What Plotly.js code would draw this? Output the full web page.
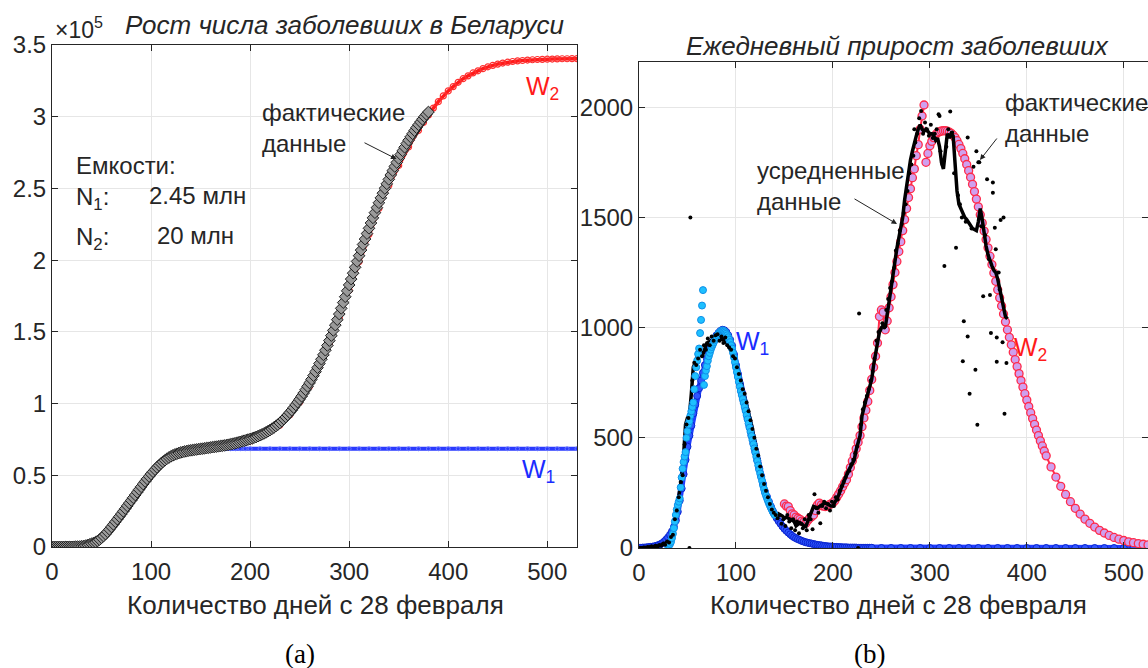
<!DOCTYPE html>
<html><head><meta charset="utf-8">
<script src="https://cdn.plot.ly/plotly-3.0.1.min.js"></script>
<style>html,body{margin:0;padding:0;background:#fff;}#chart{width:1148px;height:668px;}</style>
</head><body><div id="chart"></div>
<script>
// ---------- DATA ----------
// Days since 28 Feb, even days 0..380
const dayEven = [0,2,4,6,8,10,12,14,16,18,20,22,24,26,28,30,32,34,36,38,40,42,44,46,48,50,52,54,56,58,60,62,64,66,68,70,72,74,76,78,80,82,84,86,88,90,92,94,96,98,100,102,104,106,108,110,112,114,116,118,120,122,124,126,128,130,132,134,136,138,140,142,144,146,148,150,152,154,156,158,160,162,164,166,168,170,172,174,176,178,180,182,184,186,188,190,192,194,196,198,200,202,204,206,208,210,212,214,216,218,220,222,224,226,228,230,232,234,236,238,240,242,244,246,248,250,252,254,256,258,260,262,264,266,268,270,272,274,276,278,280,282,284,286,288,290,292,294,296,298,300,302,304,306,308,310,312,314,316,318,320,322,324,326,328,330,332,334,336,338,340,342,344,346,348,350,352,354,356,358,360,362,364,366,368,370,372,374,376,378,380];
// Odd days 1..379
const dayOdd = [1,3,5,7,9,11,13,15,17,19,21,23,25,27,29,31,33,35,37,39,41,43,45,47,49,51,53,55,57,59,61,63,65,67,69,71,73,75,77,79,81,83,85,87,89,91,93,95,97,99,101,103,105,107,109,111,113,115,117,119,121,123,125,127,129,131,133,135,137,139,141,143,145,147,149,151,153,155,157,159,161,163,165,167,169,171,173,175,177,179,181,183,185,187,189,191,193,195,197,199,201,203,205,207,209,211,213,215,217,219,221,223,225,227,229,231,233,235,237,239,241,243,245,247,249,251,253,255,257,259,261,263,265,267,269,271,273,275,277,279,281,283,285,287,289,291,293,295,297,299,301,303,305,307,309,311,313,315,317,319,321,323,325,327,329,331,333,335,337,339,341,343,345,347,349,351,353,355,357,359,361,363,365,367,369,371,373,375,377,379];

// (a) cumulative cases, thousands (actual data, even days)
const cumActual = [0,0,0,0,0,0,0,0.05,0.05,0.07,
0.1,0.15,0.2,0.25,0.35,0.5,0.7,1.0,1.4,1.8,
2.3,2.8,3.4,4.2,5.2,6.4,7.6,9.0,10.6,12.3,
14.0,15.8,17.6,19.4,21.2,23.0,24.9,26.8,28.7,30.6,
32.5,34.4,36.3,38.2,40.1,42.0,43.9,45.7,47.5,49.2,
50.9,52.5,54.0,55.5,56.9,58.2,59.4,60.5,61.5,62.4,
63.2,63.9,64.5,65.0,65.5,65.9,66.3,66.6,66.9,67.2,
67.4,67.6,67.8,68.0,68.2,68.4,68.6,68.8,69.0,69.2,
69.4,69.6,69.8,70.0,70.2,70.4,70.6,70.8,71.0,71.3,
71.6,71.9,72.2,72.5,72.9,73.3,73.7,74.1,74.5,74.9,
75.3,75.7,76.2,76.7,77.3,77.9,78.5,79.2,79.9,80.7,
81.5,82.4,83.3,84.3,85.3,86.5,87.8,89.2,90.6,92.1,
93.7,95.4,97.2,99.1,101.0,103.0,105.1,107.3,109.6,112.0,
114.4,116.9,119.5,122.2,125.0,127.9,130.9,134.0,137.2,140.5,
143.9,147.4,151.0,154.7,158.5,162.4,166.4,170.4,174.5,178.6,
182.7,186.8,190.9,195.0,199.1,203.1,207.0,210.9,214.7,218.5,
222.2,225.9,229.5,233.1,236.6,240.0,243.4,246.7,250.0,253.2,
256.3,259.4,262.4,265.3,268.1,270.9,273.6,276.2,278.7,281.2,
283.6,285.9,288.1,290.3,292.4,294.4,296.3,298.2,300.0,301.7,
303.3];

// (a) model W1 cumulative, thousands
const cumW1Days = [0,5,10,15,20,25,30,35,40,45,50,55,60,65,70,75,80,85,90,95,100,105,110,115,120,125,130,135,140,145,150,155,160,165,170,175,180,185,190,195,200,210,220,230,240,250,260,270,280,290,300,310,320,330,340,350,360,370,380,390,400,410,420,430,440,450,460,470,480,490,500,510,520,530];
const cumW1 = [0,0,0,0,0.1,0.25,0.5,1.2,2.2,3.8,
6.2,9.5,13.5,18,22.5,27.3,32,36.8,41.5,46,
50,53.5,57,60,62.5,64.3,65.6,66.6,67.3,67.8,
68.1,68.3,68.4,68.5,68.5,68.5,68.5,68.5,68.5,68.5,
68.5,68.5,68.5,68.5,68.5,68.5,68.5,68.5,68.5,68.5,68.5,68.5,68.5,68.5,68.5,68.5,68.5,68.5,68.5,68.5,68.5,68.5,68.5,68.5,68.5,68.5,68.5,68.5,68.5,68.5,68.5,68.5,68.5,68.5];

// (a) model W2 cumulative, thousands
const cumW2Days = [200,210,220,230,240,250,260,270,280,290,300,310,320,330,340,350,360,370,375,380,385,390,395,400,405,410,415,420,425,430,435,440,445,450,455,460,465,470,475,480,485,490,495,500,505,510,515,520,525,530];
const cumW2 = [74,77,80.5,85,92,101,112,126,142,160,179,199,218,236,252,266,279,290.5,
296,301,306,310.5,314.5,318,321,324,326.5,328.5,330.5,332,333.5,334.8,335.8,336.7,337.4,338,338.5,338.9,339.2,339.5,339.7,339.9,340.0,340.1,340.2,340.3,340.4,340.4,340.5,340.5];

// (b) daily: averaged data (even days)
const avgDaily = [0,0,0,1,2,3,4,5,6,8,
10,12,15,18,22,28,38,55,90,150,
210,260,320,420,560,590,600,700,820,840,
870,880,890,880,910,930,935,940,945,950,
955,960,950,945,950,935,920,905,890,870,
845,810,775,745,710,680,640,600,560,515,
470,430,390,350,310,270,240,210,185,165,
150,140,155,150,145,135,140,135,130,128,
120,100,110,115,110,100,97,120,142,170,
188,185,180,188,195,200,205,200,195,190,
190,205,218,240,265,290,310,330,350,365,
385,400,445,480,510,600,640,670,700,740,
765,830,880,950,980,1000,1010,1000,1050,1120,
1180,1230,1300,1360,1410,1450,1500,1580,1650,1710,
1760,1800,1840,1870,1900,1920,1900,1890,1900,1890,
1880,1880,1870,1850,1860,1820,1750,1720,1800,1880,
1860,1880,1870,1750,1620,1560,1540,1520,1500,1490,
1475,1460,1450,1445,1440,1480,1540,1490,1420,1370,
1330,1300,1280,1260,1250,1220,1175,1120,1080,1050,
1040];

// (b) daily: actual data points (odd days)
const dailyActual = [0,0,2,0,5,3,8,4,10,6,
14,10,20,15,30,25,50,60,130,170,
230,300,330,470,560,590,1500,760,840,830,
860,900,870,920,900,950,920,960,940,965,
970,940,960,930,955,920,910,900,870,860,
820,790,760,720,700,660,620,580,540,500,
450,420,370,330,290,260,230,200,175,160,
150,135,150,110,130,100,150,120,90,130,
80,120,67,110,90,130,80,150,130,85,
244,180,160,112,190,210,180,200,170,210,
190,230,220,260,280,300,320,340,350,380,
400,430,460,1064,560,630,660,690,720,760,
800,860,940,980,990,1020,1000,1080,1130,1180,
1210,1270,1350,1380,1440,1470,1520,1560,1620,1700,
1740,1780,1840,1880,1950,1983,1880,1930,1900,1870,
1920,1860,1880,1900,1968,1800,1740,1279,1820,1900,
1980,1885,1700,1362,1600,1560,1500,1029,1480,1862,
700,1450,1730,809,559,1750,1460,1142,1420,1673,
1310,976,1612,1453,955,1250,1488,933,609,839];
// extra actual points on even days
const extraDays = [52,226,284,310,334,339,348,350,362,365,368,369,372,376];
const extraVals = [0,0,1900,1960,847,960,1800,1750,1148,1658,1355,845,1173,1500];

// (b) data used for W1 fit
const cyanDays = [30,31,32,33,34,35,36,37,38,39,40,41,42,43,44,45,46,47,48,49,50,51,52,53,54,55,56,57,58,59,60,61,62,63,64,65,66,67,68,69,70,71,72,73,74,75,76,77,78,79,80,81,82,83,84,85,86,87,88,89,90,91,92,93,94,95,96,97,98,99,100,101,102,103,104,105,106,107,108,109,110,111,112,113,114,115,116,117,118,119,120,121,122,123,124,125,126,127,128,129,130,131,132,133,134,135,136,137,138,139,140];
const cyanVals = [8,12,18,28,45,65,90,120,150,175,
195,210,225,275,320,360,390,415,435,500,
530,560,575,600,620,640,660,720,780,820,
850,880,905,975,1035,1100,1170,740,780,805,
825,850,870,885,900,912,922,932,942,950,
958,965,972,978,982,985,987,986,983,978,
972,965,956,946,934,920,905,886,865,843,
820,798,776,754,732,712,694,676,658,640,
622,603,584,565,546,527,508,490,471,452,
433,414,395,375,355,338,321,304,284,267,
250,238,226,214,203,193,183,174,165,157,
150];

// (b) model W1 daily
const w1Days = [0,2,4,6,8,10,12,14,16,18,20,22,24,26,28,30,32,34,36,38,40,42,44,46,48,50,52,54,56,58,60,62,64,66,68,70,72,74,76,78,80,82,84,86,88,90,92,94,96,98,100,102,104,106,108,110,112,114,116,118,120,122,124,126,128,130,132,134,136,138,140,142,144,146,148,150,152,154,156,158,160,162,164,166,168,170,172,174,176,178,180,182,184,186,188,190,192,194,196,198,200,202,204,206,208,210,212,214,216,218,220,222,224,226,228,230,232,234,236,238,240,250,260,270,280,290,300,310,320,330,340,350,360,370,380,390,400,410,420,430,440,450,460,470,480,490,500,510,520,530];
const w1Daily = [1,1,2,2,3,4,5,6,8,10,
13,17,22,29,38,48,60,75,95,125,
165,215,270,335,400,460,510,555,610,650,
690,725,760,795,830,860,890,915,935,952,
965,976,985,990,988,980,965,945,918,878,
830,790,745,705,665,628,590,552,512,475,
437,398,360,325,290,255,232,210,188,168,
152,136,122,110,98,87,78,70,62,55,
49,44,40,36,32,29,26,24,22,20,
18,16,14,13,12,10,9,8,7,7,
6,5,5,4,4,3,3,3,2,2,
2,2,2,1,1,1,1,1,1,1,
1,
0,0,0,0,0,0,0,0,0,0,0,0,0,0,0,0,0,0,0,0,0,0,0,0,0,0,0,0,0];

// (b) model W2 daily (fitted data part, then forecast)
const w2Days = [150,152,154,156,158,160,162,164,166,168,170,172,174,176,178,180,182,184,186,188,190,192,194,196,198,200,202,204,206,208,210,212,214,216,218,220,222,224,226,228,230,232,234,236,238,240,242,244,246,248,250,252,254,256,258,260,262,264,266,268,270,272,274,276,278,280,282,284,286,288,290,292,294,295,296,298,300,302,304,306,308,310,312,314,316,318,320,322,324,326,328,330,332,334,336,338,340,342,344,346,348,350,352,354,356,358,360,362,364,366,368,370,372,374,376,378,380,382,384,386,388,390,392,394,396,398,400,402,404,406,408,410,412,414,416,418,420,425,430,435,440,445,450,455,460,465,470,475,480,485,490,495,500,505,510,515,520,525,530];
const w2Daily = [200,190,188,170,155,150,140,135,130,122,
118,112,125,135,142,150,170,195,204,195,
190,188,190,195,200,205,215,230,245,260,
278,295,310,335,365,395,420,450,480,510,
550,590,625,665,715,765,820,870,930,1050,
1080,1070,990,1030,1090,1140,1195,1250,1300,1345,
1390,1440,1490,1540,1590,1630,1680,1720,1780,1830,
1900,1960,2010,
null,
1750,1790,1825,1845,1862,1875,1884,1889,1892,1893,
1893,1891,1887,1881,1873,1862,1848,1831,1812,1790,
1766,1740,1712,1682,1650,1617,1583,1548,1512,1475,
1438,1400,1362,1324,1286,1248,1210,1172,1135,1098,
1062,1026,990,956,922,888,855,823,791,760,
730,700,671,642,614,587,561,535,510,486,
463,440,418,
368,322,280,243,210,180,154,131,112,95,80,68,57,48,40,34,28,24,20,17,14,12];

// tick labels
const xTicks = [0,100,200,300,400,500];
const yTicksA = [0,50,100,150,200,250,300,350];
const yTextA = ['0','0.5','1','1.5','2','2.5','3','3.5'];
const yTicksB = [0,500,1000,1500,2000];

// ---------- LAYOUT ----------
const W = 1148, H = 668;
const px = v => v / W;
const py = v => 1 - v / H;
const FONT = 'Liberation Sans, Arial, sans-serif';
const INK = '#262626';

const traces = [
  {x: cumW1Days, y: cumW1, xaxis:'x', yaxis:'y', mode:'lines+markers',
   line:{color:'#2b3bff', width:4}, marker:{symbol:'circle-open', size:4, color:'#6a78ff', line:{width:1}}},
  {x: cumW2Days, y: cumW2, xaxis:'x', yaxis:'y', mode:'lines+markers',
   line:{color:'#ff1a1a', width:3.5}, marker:{symbol:'circle-open', size:6, color:'#ff3030', line:{width:1.2}}},
  {x: dayEven, y: cumActual, xaxis:'x', yaxis:'y', mode:'markers',
   marker:{symbol:'diamond', size:9, color:'#9a9a9a', line:{color:'#1e1e1e', width:1}}},

  {x: w1Days, y: w1Daily, xaxis:'x2', yaxis:'y2', mode:'lines+markers',
   line:{color:'#1f3dff', width:6}, marker:{symbol:'circle', size:7, color:'#2f55ff', line:{color:'#0a25d0', width:1}}},
  {x: w2Days, y: w2Daily, xaxis:'x2', yaxis:'y2', mode:'lines+markers', connectgaps:false,
   line:{color:'#ff2a4a', width:2}, marker:{symbol:'circle', size:8, color:'#cfa0ee', line:{color:'#ff2a4a', width:1.3}}},
  {x: dayEven, y: avgDaily, xaxis:'x2', yaxis:'y2', mode:'lines', line:{color:'#000', width:3.5}},
  {x: cyanDays, y: cyanVals, xaxis:'x2', yaxis:'y2', mode:'markers',
   marker:{symbol:'circle', size:7, color:'#1ec0ff', line:{color:'#0f8fe8', width:1}}},
  {x: dayOdd, y: dailyActual, xaxis:'x2', yaxis:'y2', mode:'markers', marker:{size:4, color:'#000'}},
  {x: extraDays, y: extraVals, xaxis:'x2', yaxis:'y2', mode:'markers', marker:{size:4, color:'#000'}}
];

function axisBase() {
  return {ticks:'inside', ticklen:6, tickcolor:INK, showline:true, linecolor:INK, linewidth:1,
    mirror:'ticks', showgrid:true, gridcolor:'#e6e6e6', gridwidth:1, zeroline:false,
    tickfont:{family:FONT, size:24, color:INK}, fixedrange:true};
}
const layout = {
  width:W, height:H, margin:{l:0,r:0,t:0,b:0}, paper_bgcolor:'#fff', plot_bgcolor:'#fff',
  showlegend:false, hovermode:false, font:{family:FONT, color:INK},
  xaxis: Object.assign(axisBase(), {domain:[px(52), px(577)], range:[0,530], tickvals:xTicks, anchor:'y', ticklabelstandoff:3}),
  yaxis: Object.assign(axisBase(), {domain:[py(547), py(45)], range:[0,350], tickvals:yTicksA, ticktext:yTextA, anchor:'x'}),
  xaxis2: Object.assign(axisBase(), {domain:[px(639), 1], range:[0,525], tickvals:xTicks, anchor:'y2', ticklabelstandoff:3}),
  yaxis2: Object.assign(axisBase(), {domain:[py(548), py(62)], range:[0,2205], tickvals:yTicksB, anchor:'x2'}),
  annotations: []
};

function T(text, x, y, o) {
  o = o || {};
  layout.annotations.push({text:text, x:px(x), y:py(y), xref:'paper', yref:'paper', showarrow:false,
    xanchor:o.xa || 'left', yanchor:'middle', align:o.align || 'left',
    font:{family:o.family || FONT, size:o.size || 24, color:o.color || INK}});
}
function A(hx, hy, tx, ty) {
  layout.annotations.push({text:'', x:px(hx), y:py(hy), xref:'paper', yref:'paper', showarrow:true,
    ax:tx-hx, ay:ty-hy, arrowhead:2, arrowsize:1.1, arrowwidth:1, arrowcolor:'#222'});
}

T('×10<sup>5</sup>', 53, 28, {size:23});
T('<i>Рост числа заболевших в Беларуси</i>', 344, 25, {xa:'center', size:26});
T('<i>Ежедневный прирост заболевших</i>', 897, 46, {xa:'center', size:26});
T('Количество дней с 28 февраля', 315, 605, {xa:'center', size:26});
T('Количество дней с 28 февраля', 898, 605, {xa:'center', size:26});
T('(a)', 300, 654, {xa:'center', size:27, family:'Liberation Serif, Times New Roman, serif', color:'#000'});
T('(b)', 869, 654, {xa:'center', size:27, family:'Liberation Serif, Times New Roman, serif', color:'#000'});
T('Емкости:', 74, 165);
T('N<sub>1</sub>:', 74, 199);
T('2.45 млн', 147, 195);
T('N<sub>2</sub>:', 74, 239);
T('20 млн', 155, 235);
T('фактические<br>данные', 260, 128);
T('W<sub>2</sub>', 524, 88, {size:25, color:'#ff1a1a'});
T('W<sub>1</sub>', 520, 471, {size:25, color:'#1a2cff'});
T('фактические<br>данные', 1003, 118);
T('усредненные<br>данные', 755, 186);
T('W<sub>1</sub>', 734, 343, {size:25, color:'#1a2cff'});
T('W<sub>2</sub>', 1012, 349, {size:25, color:'#ff1a1a'});
A(396.5, 159, 363, 142);
A(897, 224, 853, 198);
A(980, 160, 998, 137);

Plotly.newPlot('chart', traces, layout, {displayModeBar:false, staticPlot:true});
</script></body></html>
